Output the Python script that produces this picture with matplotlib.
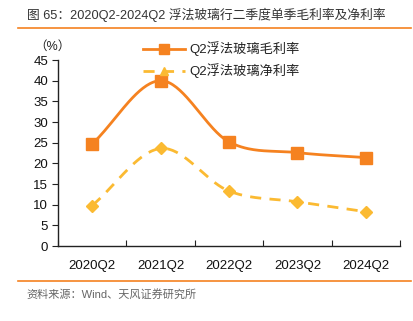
import numpy as np
import matplotlib
matplotlib.use("Agg")
import matplotlib.pyplot as plt
from matplotlib.lines import Line2D

plt.rcParams['font.family'] = ['Liberation Sans', 'Noto Sans CJK SC']

quarters = ["2020Q2", "2021Q2", "2022Q2", "2023Q2", "2024Q2"]
gross_margin = [24.7, 40.0, 25.2, 22.6, 21.4]
net_margin = [9.8, 23.6, 13.3, 10.7, 8.3]

ORANGE = "#F58220"
GOLD = "#FBBA32"


def smooth(xs, ys, n=40):
    # Catmull-Rom curve through the points, like a spreadsheet "smoothed line"
    xs = np.asarray(xs, float)
    ys = np.asarray(ys, float)
    px = np.concatenate([[2 * xs[0] - xs[1]], xs, [2 * xs[-1] - xs[-2]]])
    py = np.concatenate([[2 * ys[0] - ys[1]], ys, [2 * ys[-1] - ys[-2]]])
    out_x, out_y = [], []
    t = np.linspace(0, 1, n)
    for i in range(1, len(px) - 2):
        for p, out in ((px, out_x), (py, out_y)):
            p0, p1, p2, p3 = p[i - 1], p[i], p[i + 1], p[i + 2]
            seg = 0.5 * ((2 * p1) + (-p0 + p2) * t
                         + (2 * p0 - 5 * p1 + 4 * p2 - p3) * t ** 2
                         + (-p0 + 3 * p1 - 3 * p2 + p3) * t ** 3)
            out.extend(seg)
    return np.array(out_x), np.array(out_y)


fig = plt.figure(figsize=(4.13, 3.21), dpi=100)
ax = fig.add_axes([0.1404, 0.2336, 0.8281, 0.5794])

x = np.arange(len(quarters))
sx, sy = smooth(x, gross_margin)
ax.plot(sx, sy, color=ORANGE, lw=2.0, zorder=3)
ax.plot(x, gross_margin, ls="none", marker="s", ms=8, color=ORANGE, zorder=4)

sx, sy = smooth(x, net_margin)
ax.plot(sx, sy, color=GOLD, lw=2.0, ls=(0, (4, 3)), zorder=3)
ax.plot(x, net_margin, ls="none", marker="D", ms=6.5, color=GOLD, zorder=4)

ax.set_xlim(-0.5, len(quarters) - 0.5)
ax.set_ylim(0, 45)
ax.set_yticks(range(0, 46, 5))
ax.set_xticks(np.arange(-0.5, len(quarters), 1.0), minor=False)
ax.set_xticklabels([])
ax.set_xticks(x, minor=True)
ax.set_xticklabels(quarters, minor=True)
ax.tick_params(axis="x", which="minor", length=0, pad=10, labelsize=9.5,
               labelcolor="#111111")
ax.tick_params(axis="x", which="major", length=4, direction="in", color="#222222")
ax.tick_params(axis="y", length=4, direction="out", labelsize=9.5, pad=3,
               color="#222222", labelcolor="#111111")

for side in ("top", "right"):
    ax.spines[side].set_visible(False)
for side in ("left", "bottom"):
    ax.spines[side].set_color("#222222")
    ax.spines[side].set_linewidth(1.0)

fig.text(0.126, 0.855, "（%）", fontsize=9, ha="center", va="center", color="#222222")

# legend drawn by hand in figure coordinates
handles = [
    Line2D([0], [0], color=ORANGE, lw=2, marker="s", ms=7),
    Line2D([0], [0], color=GOLD, lw=2, ls=(0, (4, 3)), marker="^", ms=6),
]
leg = fig.legend(handles, ["Q2浮法玻璃毛利率", "Q2浮法玻璃净利率"],
                 loc="upper left", bbox_to_anchor=(0.318, 0.908),
                 frameon=False, fontsize=9.5, handlelength=3.2,
                 handletextpad=0.3, labelspacing=0.55)
for t in leg.get_texts():
    t.set_color("#222222")

fig.text(0.065, 0.953, "图 65：2020Q2-2024Q2 浮法玻璃行二季度单季毛利率及净利率",
         fontsize=9.2, color="#333333", va="center")
fig.add_artist(Line2D([0.044, 0.995], [0.913, 0.913], color=ORANGE, lw=1.2))
fig.add_artist(Line2D([0.044, 0.995], [0.125, 0.125], color=ORANGE, lw=1.2))
fig.text(0.065, 0.084, "资料来源：Wind、天风证券研究所", fontsize=8,
         color="#666666", va="center")

fig.savefig("out.png", dpi=100)
